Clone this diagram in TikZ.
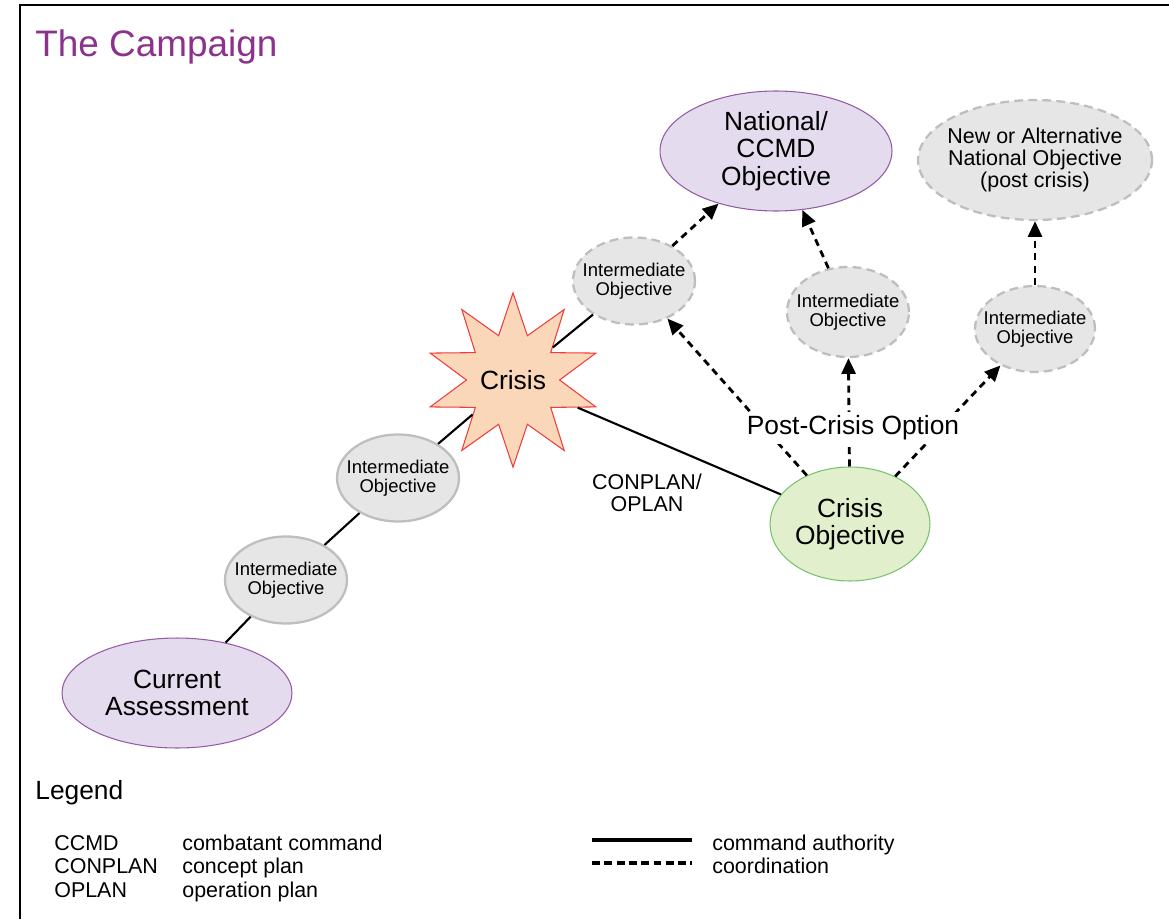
\documentclass[tikz,border=0pt]{standalone}
\usepackage{fontspec}
\setmainfont{Liberation Sans}
\usetikzlibrary{shapes.geometric,arrows.meta}
\definecolor{titlepurple}{RGB}{140,50,140}
\definecolor{ovalfill}{RGB}{228,220,238}
\definecolor{ovalpurple}{RGB}{150,90,165}
\definecolor{midfill}{RGB}{230,230,230}
\definecolor{midgray}{RGB}{190,190,190}
\definecolor{starfill}{RGB}{250,215,185}
\definecolor{starred}{RGB}{240,60,60}
\definecolor{okfill}{RGB}{226,239,204}
\definecolor{okgreen}{RGB}{120,195,110}
\begin{document}
\begin{tikzpicture}[
  x=0.02cm, y=-0.02cm,
  goal/.style={ellipse, draw=ovalpurple, fill=ovalfill, line width=0.6pt, inner xsep=-8pt, inner ysep=-4pt, align=center, font=\fontsize{15}{15.5}\selectfont},
  inter/.style={ellipse, draw=midgray, fill=midfill, line width=1.3pt, inner xsep=-8pt, inner ysep=-4pt, align=center, minimum width=2.44cm, minimum height=1.74cm, font=\fontsize{10.5}{10.8}\selectfont},
  later/.style={inter, dash pattern=on 5pt off 3pt},
  cmd/.style={line width=1.2pt},
  coord/.style={line width=1.6pt, dash pattern=on 4pt off 3pt, -{Triangle[length=9pt,width=8pt]}},
  note/.style={inner sep=0pt, align=center, font=\fontsize{12.2}{12.5}\selectfont},
  key/.style={anchor=base west, inner sep=0pt, font=\fontsize{12.2}{13}\selectfont}
]
\useasboundingbox (0,0) rectangle (1169,919);
\draw[line width=1.6pt] (20,919) -- (20,5) -- (1169,5);

\node[anchor=west, inner sep=0pt, text=titlepurple, font=\fontsize{21}{22}\selectfont] (title) at (35,47) {The Campaign};

\node[goal, minimum width=4.6cm, minimum height=2.2cm] (current) at (177,693) {Current\\Assessment};
\node[inter] (io1) at (286,580) {Intermediate\\Objective};
\node[inter] (io2) at (398,478) {Intermediate\\Objective};
\node[star, star points=10, star point ratio=1.87, minimum size=3.44cm, inner sep=0pt, draw=starred, fill=starfill, line width=0.6pt, font=\fontsize{15}{15.5}\selectfont] (crisis) at (513,380) {Crisis};
\node[later] (io3) at (634,281) {Intermediate\\Objective};
\node[goal, minimum width=4.64cm, minimum height=2.4cm] (national) at (776,151) {National/\\CCMD\\Objective};
\node[later, minimum height=1.8cm] (io4) at (848,312) {Intermediate\\Objective};
\node[later, minimum width=4.68cm, minimum height=2.4cm, font=\fontsize{12.2}{12.5}\selectfont] (newobj) at (1035,160) {New or Alternative\\National Objective\\(post crisis)};
\node[later, minimum width=2.4cm, minimum height=1.72cm] (io5) at (1035,329) {Intermediate\\Objective};
\node[goal, draw=okgreen, fill=okfill, minimum width=3.2cm, minimum height=2.28cm] (crisisobj) at (850,524) {Crisis\\Objective};

\draw[cmd] (current) -- (io1);
\draw[cmd] (io1) -- (io2);
\draw[cmd] (io2) -- (crisis);
\draw[cmd] (crisis) -- (io3);
\draw[cmd] (crisis) -- (crisisobj);
\draw[coord] (io3) -- (national);
\draw[coord] (io4) -- (national);
\draw[coord] (io5) -- (newobj);
\draw[coord] (crisisobj) -- (io3);
\draw[coord] (crisisobj) -- (io4);
\draw[coord] (crisisobj) -- (io5);

\node[note, fill=white, inner sep=2pt, font=\fontsize{15}{15.5}\selectfont] (option) at (853,428) {Post-Crisis Option};
\node[note] (plan) at (647,493) {CONPLAN/\\OPLAN};

\node[key, font=\fontsize{15}{16}\selectfont] (legend) at (35,799) {Legend};
\node[key] (ccmd) at (54,850) {CCMD};
\node[key] (conplan) at (54,873) {CONPLAN};
\node[key] (oplan) at (54,897) {OPLAN};
\node[key] (ccmdtext) at (182,850) {combatant command};
\node[key] (conplantext) at (182,873) {concept plan};
\node[key] (oplantext) at (182,897) {operation plan};
\coordinate (solidA) at (592,840);
\coordinate (solidB) at (692,840);
\coordinate (dashA) at (592,863);
\coordinate (dashB) at (692,863);
\draw[line width=1.8pt] (solidA) -- (solidB);
\draw[line width=1.8pt, dash pattern=on 4.5pt off 2.5pt] (dashA) -- (dashB);
\node[key] (authority) at (712,850) {command authority};
\node[key] (coordination) at (712,873) {coordination};
\end{tikzpicture}
\end{document}
